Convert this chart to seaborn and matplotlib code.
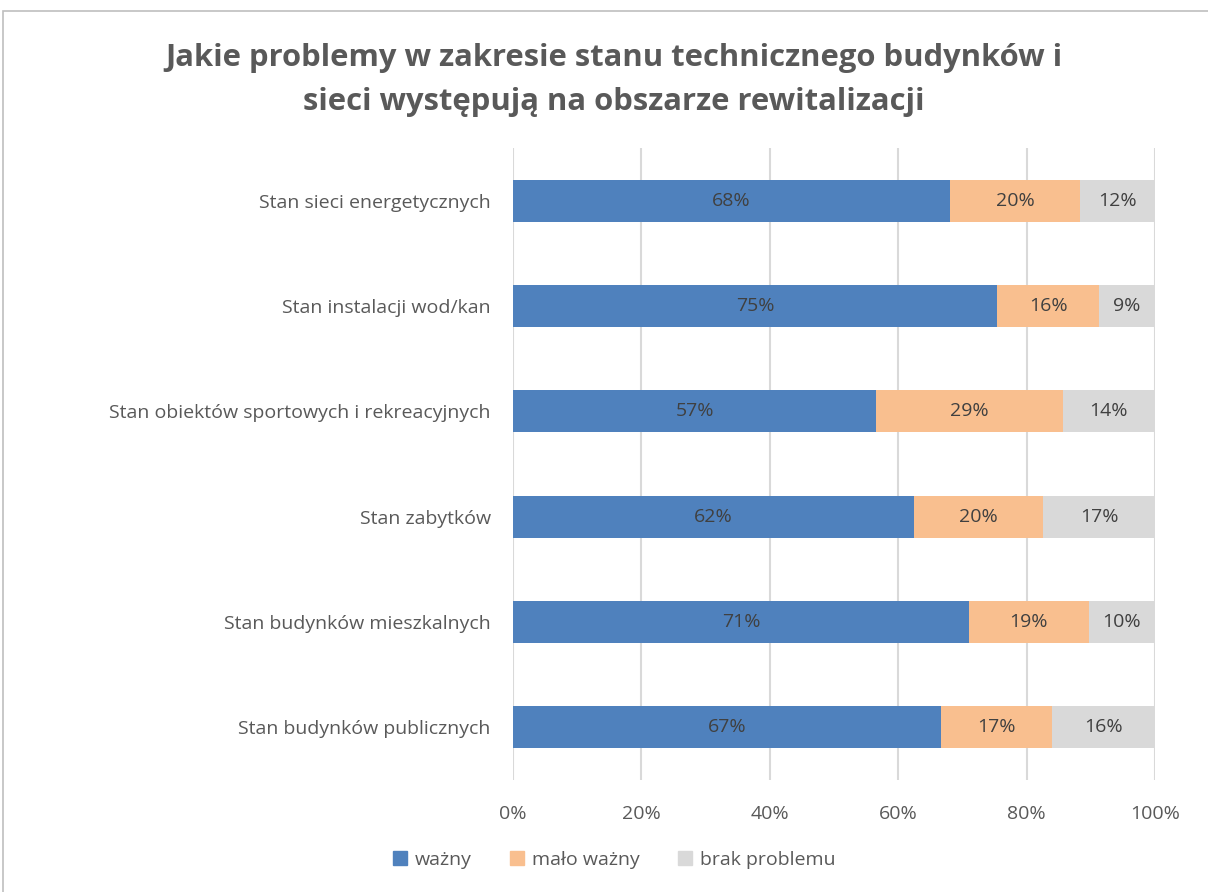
import matplotlib
matplotlib.use("Agg")
import matplotlib.pyplot as plt
import seaborn as sns
import pandas as pd
import numpy as np
from matplotlib.patches import Rectangle

categories = [
    "Stan sieci energetycznych",
    "Stan instalacji wod/kan",
    "Stan obiektów sportowych i rekreacyjnych",
    "Stan zabytków",
    "Stan budynków mieszkalnych",
    "Stan budynków publicznych",
]
wazny = [68.1, 75.4, 56.6, 62.4, 71.0, 66.7]
malo_wazny = [20.2, 15.9, 29.0, 20.2, 18.7, 17.3]
brak = [11.7, 8.7, 14.4, 17.4, 10.3, 16.0]
series_names = ["ważny", "mało ważny", "brak problemu"]
colors = ["#4F81BD", "#F9BF8F", "#D9D9D9"]
xticks = [0, 20, 40, 60, 80, 100]
title = "Jakie problemy w zakresie stanu technicznego budynków i\nsieci występują na obszarze rewitalizacji"

sns.set_theme(style="white")
plt.rcParams['font.family'] = ['Open Sans', 'DejaVu Sans']

fig = plt.figure(figsize=(12.08, 8.92), dpi=100)
ax = fig.add_axes([513/1208, 1 - 780/892, (1155-513)/1208, (780-148)/892])

series = [wazny, malo_wazny, brak]
left = np.zeros(len(categories))
for name, vals, col in zip(series_names, series, colors):
    cum = left + np.array(vals)
    sns.barplot(x=cum, y=categories, color=col, ax=ax, width=0.4, orient="h",
                label=name, saturation=1)
    left = cum

for i, c in enumerate(ax.containers):
    for p in c:
        p.set_zorder(10 - i)
        p.set_edgecolor("none")

fs = 14
left = np.zeros(len(categories))
for vals in series:
    for j, v in enumerate(vals):
        ax.text(left[j] + v / 2, j, f"{round(v):.0f}%", ha="center", va="center",
                fontsize=fs, color="#404040", zorder=20)
    left = left + np.array(vals)

ax.set_xlim(0, 100)
ax.set_ylim(len(categories) - 0.5, -0.5)
ax.set_xticks(xticks)
ax.set_xticklabels([f"{t}%" for t in xticks], fontsize=fs, color="#595959")
ax.tick_params(axis="x", length=0, pad=18)
ax.tick_params(axis="y", length=0, pad=16, labelsize=fs, labelcolor="#595959")
ax.set_xlabel("")
ax.set_ylabel("")
ax.grid(axis="x", color="#D9D9D9", linewidth=1.5, zorder=0)
ax.set_axisbelow(True)
for s in ax.spines.values():
    s.set_visible(False)

handles = [Rectangle((0, 0), 1, 1, color=c) for c in colors]
fig.legend(handles, series_names, loc="center", bbox_to_anchor=(614/1208, 1 - 860/892),
           ncol=3, frameon=False, fontsize=fs, handlelength=0.7, handleheight=0.7,
           columnspacing=2.0, handletextpad=0.4, labelcolor="#595959")
if ax.get_legend():
    ax.get_legend().remove()

fig.text(614/1208, 1 - 80/892, title, ha="center", va="center", fontsize=22.3,
         fontweight="bold", color="#595959", linespacing=1.6)

fig.patches.append(Rectangle((3/1208, -0.01), 1.1, 1 - 11/892 + 0.01, transform=fig.transFigure,
                             fill=False, edgecolor="#BFBFBF", linewidth=1.2))

fig.savefig("out.png", dpi=100, facecolor="white")
